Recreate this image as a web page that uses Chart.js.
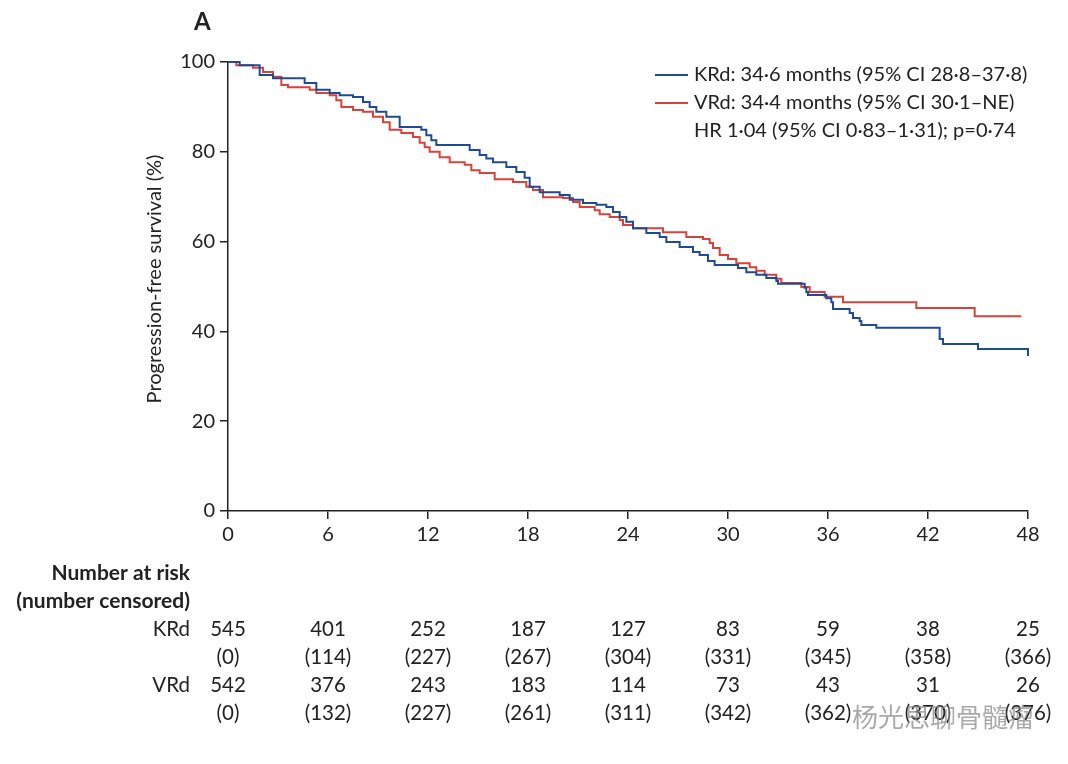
<!DOCTYPE html>
<html>
<head>
<meta charset="utf-8">
<script src="https://cdn.jsdelivr.net/npm/chart.js@4.4.1/dist/chart.umd.min.js"></script>
<style>
  html, body { margin: 0; padding: 0; background: #fff; }
  #wrap { width: 1068px; height: 764px; position: relative; }
</style>
</head>
<body>
<div id="wrap"><canvas id="pfsChart"></canvas></div>
<script>
// KRd Kaplan-Meier steps (months, % progression-free)
const krdTimes = [0, 0.7, 1.9, 2.7, 4.6, 5.3, 6.1, 6.7, 7.5, 8.1, 8.5, 8.9, 9.5, 10.3, 11.6, 11.9, 12.2, 12.5,
  14.5, 15.1, 15.5, 15.9, 16.7, 17.3, 17.8, 18.1, 18.7, 19.9, 20.5, 21.3, 22.1, 22.7, 23.1, 23.5, 23.9, 24.3,
  25.1, 25.9, 26.3, 27.1, 27.9, 28.3, 28.8, 29.2, 30.6, 31.1, 31.7, 32.3, 32.9, 33.0, 34.6, 34.7, 34.8, 35.9,
  36.2, 36.3, 37.3, 37.5, 37.9, 38.0, 38.9, 42.7, 42.9, 45.0, 48.0, 48.0];
const krdSurv = [100, 99.3, 97.1, 96.4, 95.3, 93.8, 93.1, 92.6, 92.2, 91.1, 90.0, 88.9, 87.8, 85.5, 84.9, 83.7, 82.6, 81.5,
  80.4, 79.3, 78.5, 77.7, 76.6, 75.5, 74.2, 72.2, 71.0, 70.4, 69.3, 68.6, 68.2, 67.7, 66.6, 65.5, 64.4, 63.0,
  61.9, 61.0, 59.9, 58.8, 57.7, 57.0, 55.7, 54.8, 54.1, 53.2, 52.6, 51.9, 51.2, 50.6, 49.7, 48.8, 48.1, 47.4,
  46.5, 45.0, 44.1, 43.0, 42.3, 41.4, 40.8, 38.3, 37.2, 36.1, 36.1, 34.5];

// VRd Kaplan-Meier steps
const vrdTimes = [0, 0.5, 1.5, 2.1, 2.7, 3.2, 3.6, 4.9, 5.3, 6.1, 6.5, 6.8, 7.5, 8.1, 8.7, 9.3, 9.7, 10.4, 11.1,
  11.5, 11.8, 12.1, 12.7, 13.3, 14.2, 14.6, 15.1, 16.0, 17.1, 17.9, 18.3, 18.9, 20.1, 20.7, 21.1, 22.0, 22.3,
  22.9, 23.5, 23.7, 24.3, 26.1, 27.5, 28.5, 28.9, 29.1, 29.5, 30.0, 30.5, 31.3, 31.7, 32.2, 32.9, 33.2, 34.4,
  34.9, 35.8, 36.9, 41.3, 44.8, 47.6];
const vrdSurv = [100, 99.3, 98.7, 97.8, 96.7, 94.9, 94.4, 93.8, 93.1, 92.6, 91.5, 90.0, 89.3, 88.9, 87.8, 86.6, 84.9, 84.2, 83.3,
  82.0, 81.0, 80.0, 78.8, 77.7, 77.1, 75.9, 75.3, 73.9, 73.3, 72.2, 71.5, 69.9, 69.7, 68.8, 67.7, 67.0, 66.1,
  65.5, 64.8, 63.7, 63.0, 62.1, 61.0, 60.6, 59.7, 58.6, 57.0, 56.1, 55.2, 54.3, 53.5, 52.6, 51.7, 50.8, 49.9,
  48.8, 47.7, 46.5, 45.2, 43.4, 43.4];

// number at risk table
const riskTimes = [0, 6, 12, 18, 24, 30, 36, 42, 48];
const krdAtRisk = [545, 401, 252, 187, 127, 83, 59, 38, 25];
const krdCensored = [0, 114, 227, 267, 304, 331, 345, 358, 366];
const vrdAtRisk = [542, 376, 243, 183, 114, 73, 43, 31, 26];
const vrdCensored = [0, 132, 227, 261, 311, 342, 362, 370, 376];

const legendLines = [
  "KRd: 34·6 months (95% CI 28·8–37·8)",
  "VRd: 34·4 months (95% CI 30·1–NE)",
  "HR 1·04 (95% CI 0·83–1·31); p=0·74"
];

const blue = "#1f4b92";
const red = "#d8423b";
const ink = "#222";
const fontFam = "Lato, 'Open Sans', sans-serif";

function toPoints(xs, ys) {
  return xs.map((x, i) => ({ x: x, y: ys[i] }));
}

// extra text: panel letter, y title, legend, risk table
const extrasPlugin = {
  id: "extras",
  afterDraw(chart) {
    const ctx = chart.ctx;
    const xs = chart.scales.x;
    ctx.save();
    ctx.fillStyle = ink;
    ctx.textBaseline = "middle";

    ctx.font = "bold 24px " + fontFam;
    ctx.textAlign = "left";
    ctx.fillText("A", 194, 22);

    // y axis title
    ctx.save();
    ctx.translate(155, 279);
    ctx.rotate(-Math.PI / 2);
    ctx.textAlign = "center";
    ctx.font = "20px " + fontFam;
    ctx.fillText("Progression-free survival (%)", 0, 0);
    ctx.restore();

    // legend
    ctx.font = "20px " + fontFam;
    ctx.textAlign = "left";
    const legColors = [blue, red, null];
    legendLines.forEach((txt, i) => {
      const y = 75 + i * 28;
      if (legColors[i]) {
        ctx.strokeStyle = legColors[i];
        ctx.lineWidth = 2;
        ctx.beginPath();
        ctx.moveTo(655, y);
        ctx.lineTo(688, y);
        ctx.stroke();
      }
      ctx.fillText(txt, 694, y);
    });

    // risk table
    ctx.textAlign = "right";
    ctx.font = "bold 21px " + fontFam;
    ctx.fillText("Number at risk", 190, 573);
    ctx.fillText("(number censored)", 190, 601);
    ctx.font = "20.5px " + fontFam;
    ctx.fillText("KRd", 190, 629);
    ctx.fillText("VRd", 190, 685);
    ctx.textAlign = "center";
    riskTimes.forEach((t, i) => {
      const px = xs.getPixelForValue(t);
      ctx.fillText(String(krdAtRisk[i]), px, 629);
      ctx.fillText("(" + krdCensored[i] + ")", px, 657);
      ctx.fillText(String(vrdAtRisk[i]), px, 685);
      ctx.fillText("(" + vrdCensored[i] + ")", px, 713);
    });

    // watermark
    ctx.fillStyle = "rgba(140,140,140,0.75)";
    ctx.font = "26px 'Noto Sans CJK SC', sans-serif";
    ctx.textAlign = "left";
    ctx.fillText("杨光思聊骨髓瘤", 852, 717);
    ctx.restore();
  }
};

new Chart(document.getElementById("pfsChart"), {
  type: "line",
  data: {
    datasets: [
      { label: "KRd", data: toPoints(krdTimes, krdSurv), borderColor: blue, borderWidth: 2,
        stepped: true, pointRadius: 0, fill: false, clip: false },
      { label: "VRd", data: toPoints(vrdTimes, vrdSurv), borderColor: red, borderWidth: 2,
        stepped: true, pointRadius: 0, fill: false, clip: false }
    ]
  },
  options: {
    responsive: true,
    maintainAspectRatio: false,
    animation: false,
    layout: { padding: { top: 62, right: 40, bottom: 213, left: 0 } },
    plugins: { legend: { display: false }, tooltip: { enabled: false } },
    scales: {
      x: {
        type: "linear", min: 0, max: 48,
        afterFit: (s) => { s.height = 40; },
        ticks: { stepSize: 6, color: ink, font: { family: fontFam, size: 20 }, padding: 4 },
        grid: { drawOnChartArea: false, drawTicks: true, tickLength: 8, color: ink, lineWidth: 1.5 },
        border: { display: true, color: ink, width: 1.5 }
      },
      y: {
        min: 0, max: 100,
        afterFit: (s) => { s.width = 228; },
        ticks: { stepSize: 20, color: ink, font: { family: fontFam, size: 20 }, padding: 5 },
        grid: { drawOnChartArea: false, drawTicks: true, tickLength: 8, color: ink, lineWidth: 1.5 },
        border: { display: true, color: ink, width: 1.5 }
      }
    }
  },
  plugins: [extrasPlugin]
});
</script>
</body>
</html>
